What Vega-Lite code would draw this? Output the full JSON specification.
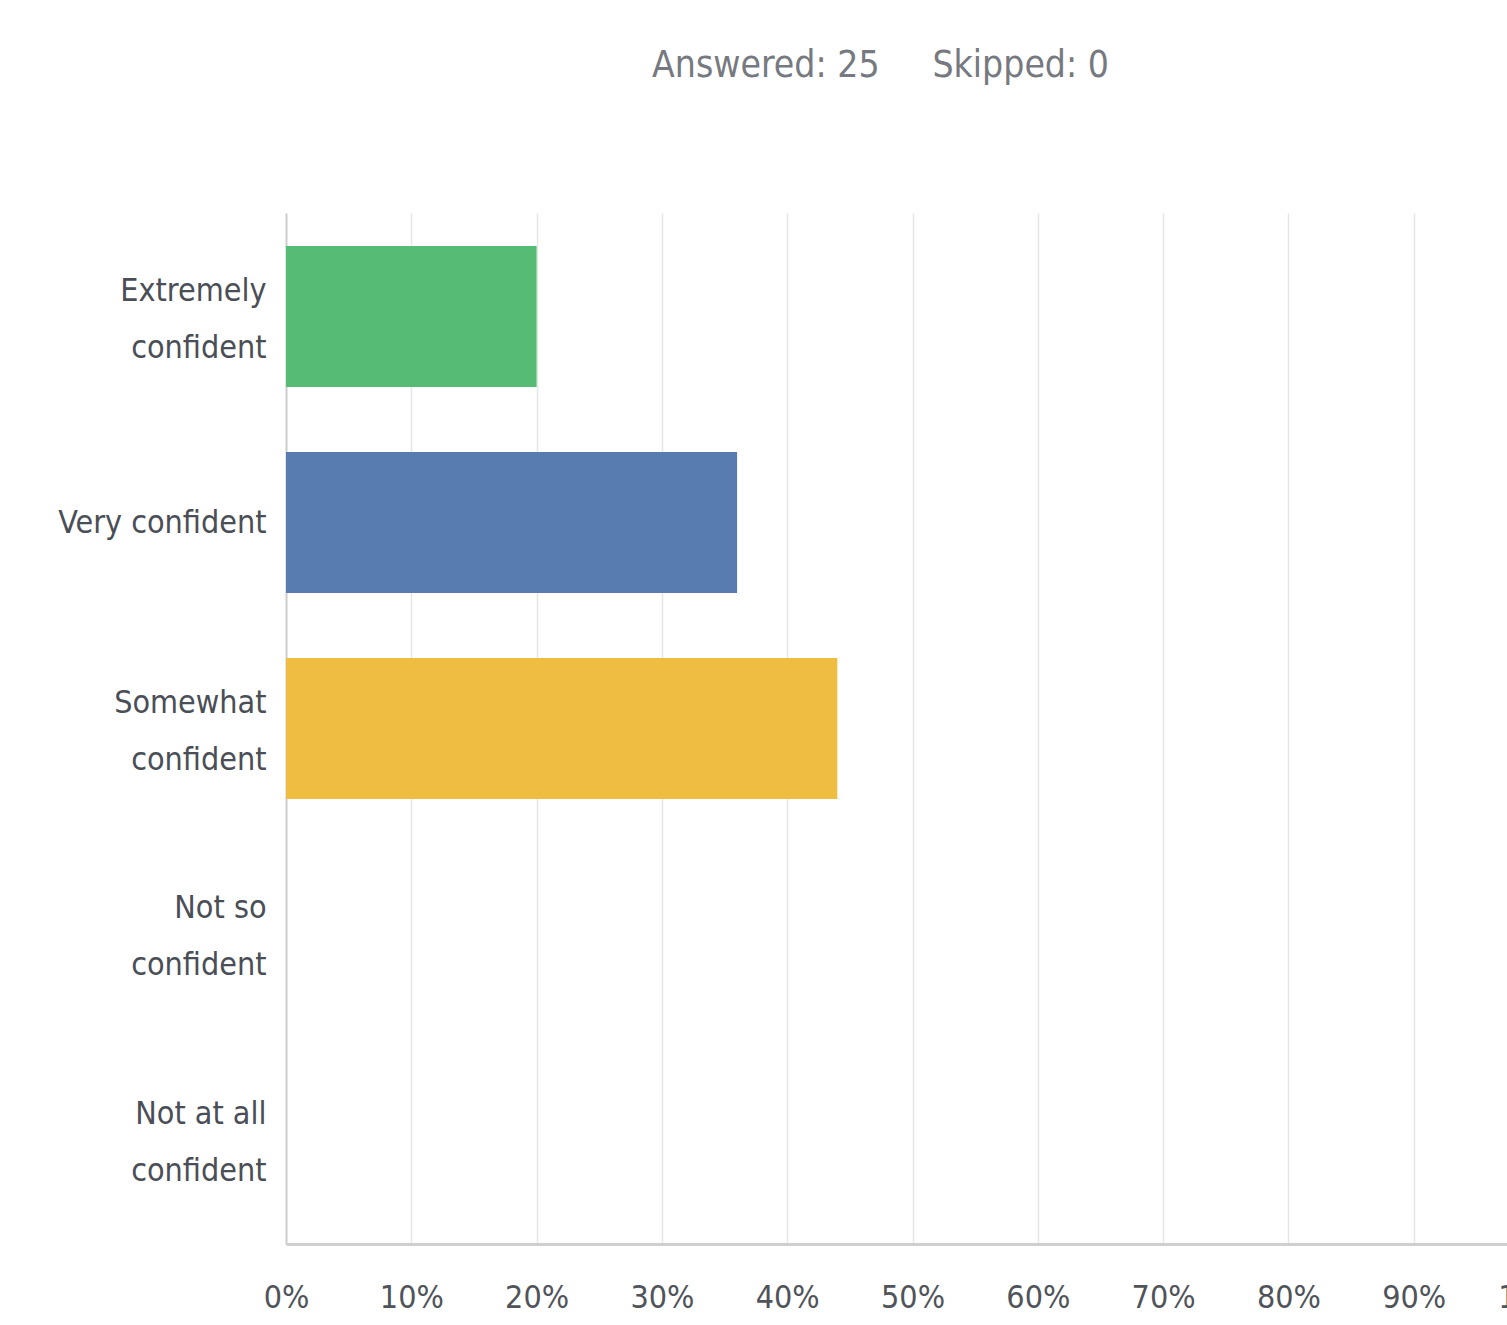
{
  "$schema": "https://vega.github.io/schema/vega-lite/v6.json",
  "autosize": "none",
  "width": 1253,
  "height": 1031,
  "padding": {"left": 286, "top": 213, "right": 0, "bottom": 81},
  "background": "white",
  "title": {
    "text": "Answered: 25\u00a0\u00a0\u00a0\u00a0\u00a0Skipped: 0",
    "font": "DejaVu Sans Condensed, DejaVu Sans",
    "fontSize": 37,
    "fontWeight": "normal",
    "color": "#767a80",
    "anchor": "middle",
    "dx": -32,
    "offset": 128
  },
  "data": {
    "values": [
      {"answer": "Extremely confident", "pct": 0.20, "order": 1},
      {"answer": "Very confident", "pct": 0.36, "order": 2},
      {"answer": "Somewhat confident", "pct": 0.44, "order": 3},
      {"answer": "Not so confident", "pct": 0.0, "order": 4},
      {"answer": "Not at all confident", "pct": 0.0, "order": 5}
    ]
  },
  "mark": {"type": "bar"},
  "encoding": {
    "y": {
      "field": "answer",
      "type": "nominal",
      "sort": {"field": "order"},
      "scale": {"paddingInner": 0.315, "paddingOuter": 0.16},
      "axis": {
        "title": null,
        "domain": true,
        "domainColor": "#cfcfcf",
        "domainWidth": 2,
        "ticks": false,
        "labelPadding": 20,
        "labelLimit": 400,
        "labelFont": "DejaVu Sans Condensed, DejaVu Sans",
        "labelFontSize": 32,
        "labelColor": "#4a4e56",
        "labelLineHeight": 57,
        "labelOffset": {"condition": {"test": "datum.value == 'Very confident'", "value": 0}, "value": -26},
        "labelExpr": "datum.label == 'Very confident' ? datum.label : [substring(datum.label, 0, lastindexof(datum.label, ' ')), substring(datum.label, lastindexof(datum.label, ' ') + 1)]"
      }
    },
    "x": {
      "field": "pct",
      "type": "quantitative",
      "scale": {"domain": [0, 1], "nice": false},
      "axis": {
        "title": null,
        "values": [0, 0.1, 0.2, 0.3, 0.4, 0.5, 0.6, 0.7, 0.8, 0.9, 1],
        "format": ".0%",
        "grid": true,
        "gridColor": "#e6e6e6",
        "gridWidth": 1.5,
        "domain": true,
        "domainColor": "#cfcfcf",
        "domainWidth": 3,
        "ticks": false,
        "labelFlush": false,
        "labelOverlap": false,
        "labelPadding": 38,
        "labelFont": "DejaVu Sans Condensed, DejaVu Sans",
        "labelFontSize": 32,
        "labelColor": "#50545a"
      }
    },
    "color": {
      "field": "answer",
      "type": "nominal",
      "scale": {
        "domain": ["Extremely confident", "Very confident", "Somewhat confident", "Not so confident", "Not at all confident"],
        "range": ["#56bb75", "#587bb0", "#efbd42", "#e07a5a", "#a57bb5"]
      },
      "legend": null
    }
  },
  "config": {"view": {"stroke": null}}
}
